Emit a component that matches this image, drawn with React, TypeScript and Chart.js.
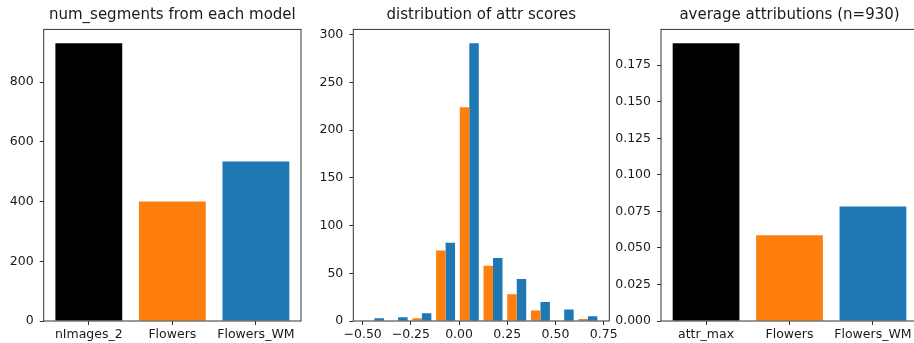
import React, { useEffect, useRef } from "react";
import { Chart, registerables } from "chart.js";

Chart.register(...registerables);
Chart.defaults.font.family = "'DejaVu Sans', sans-serif";

// ---------- data ----------
const segCategories = ["nImages_2", "Flowers", "Flowers_WM"];
const segCounts = [930, 400, 534];
const segYTicks = [0, 200, 400, 600, 800];

const binCenters = [-0.439, -0.316, -0.193, -0.07, 0.053, 0.176, 0.299, 0.422, 0.545, 0.668];
const flowersCounts = [0, 0, 3, 74, 224, 58, 28, 11, 0, 2];
const flowersWMCounts = [3, 4, 8, 82, 291, 66, 44, 20, 12, 5];
const histXTicks = [-0.5, -0.25, 0, 0.25, 0.5, 0.75];
const histYTicks = [0, 50, 100, 150, 200, 250, 300];

const attrCategories = ["attr_max", "Flowers", "Flowers_WM"];
const attrValues = [0.19, 0.0586, 0.0784];
const attrYTicks = [0, 0.025, 0.05, 0.075, 0.1, 0.125, 0.15, 0.175];

const BLACK = "#000000";
const ORANGE = "#ff7f0e";
const BLUE = "#1f77b4";
const TEXT = "#1a1a1a";
const SPINE = "#333333";

const framePlugin = {
  id: "frame",
  afterDatasetsDraw(chart: any) {
    const { ctx, chartArea: a } = chart;
    ctx.save();
    ctx.strokeStyle = SPINE;
    ctx.lineWidth = 1;
    ctx.strokeRect(a.left, a.top, a.right - a.left, a.bottom - a.top);
    ctx.restore();
  },
};

const minus = (s: string) => s.replace("-", "\u2212");

function baseOptions(p: {
  title: string;
  xMin: number;
  xMax: number;
  xTicks: number[];
  xFmt: (v: number) => string;
  yMax: number;
  yTicks: number[];
  yFmt: (v: number) => string;
  yWidth: number;
  rightPad: number;
}): any {
  const tickFont = { size: 12.5 };
  return {
    responsive: false,
    animation: false,
    layout: { padding: { left: 0, right: p.rightPad, top: 0, bottom: 0 } },
    plugins: {
      legend: { display: false },
      tooltip: { enabled: false },
      title: {
        display: true,
        text: p.title,
        color: TEXT,
        fullSize: false,
        font: { size: 15, weight: "normal", lineHeight: 1.2 },
        padding: { top: 6.5, bottom: 29.4 - 6.5 - 18 },
      },
    },
    scales: {
      x: {
        type: "linear",
        min: p.xMin,
        max: p.xMax,
        offset: false,
        grid: {
          display: true,
          offset: false,
          drawOnChartArea: false,
          drawTicks: true,
          tickLength: 4,
          color: SPINE,
        },
        border: { display: false },
        afterBuildTicks: (s: any) => {
          s.ticks = p.xTicks.map((v) => ({ value: v }));
        },
        afterFit: (s: any) => {
          s.height = 343 - 321;
        },
        ticks: {
          autoSkip: false,
          maxRotation: 0,
          minRotation: 0,
          padding: 2,
          color: TEXT,
          font: tickFont,
          callback: (v: any) => p.xFmt(Number(v)),
        },
      },
      y: {
        type: "linear",
        min: 0,
        max: p.yMax,
        grid: {
          display: true,
          drawOnChartArea: false,
          drawTicks: true,
          tickLength: 4,
          color: SPINE,
        },
        border: { display: false },
        afterBuildTicks: (s: any) => {
          s.ticks = p.yTicks.map((v) => ({ value: v }));
        },
        afterFit: (s: any) => {
          s.width = p.yWidth;
        },
        ticks: {
          autoSkip: false,
          padding: 6,
          color: TEXT,
          font: tickFont,
          callback: (v: any) => p.yFmt(Number(v)),
        },
      },
    },
  };
}

function makeSegConfig(): any {
  return {
    type: "bar",
    data: {
      datasets: [
        {
          data: segCounts.map((y, i) => ({ x: i, y })),
          backgroundColor: [BLACK, ORANGE, BLUE],
          borderWidth: 0,
          categoryPercentage: 0.8,
          barPercentage: 1,
        },
      ],
    },
    options: baseOptions({
      title: "num_segments from each model",
      xMin: -0.54,
      xMax: 2.54,
      xTicks: segCategories.map((_, i) => i),
      xFmt: (v) => segCategories[Math.round(v)] ?? "",
      yMax: Math.max(...segCounts) * 1.05,
      yTicks: segYTicks,
      yFmt: (v) => String(Math.round(v)),
      yWidth: 43.7,
      rightPad: 19,
    }),
    plugins: [framePlugin],
  };
}

function makeHistConfig(): any {
  const yMax = Math.max(...flowersCounts, ...flowersWMCounts) * 1.05;
  return {
    type: "bar",
    data: {
      datasets: [
        {
          label: "Flowers",
          data: binCenters.map((x, i) => ({ x, y: flowersCounts[i] })),
          backgroundColor: ORANGE,
          borderWidth: 0,
          categoryPercentage: 0.8,
          barPercentage: 1,
        },
        {
          label: "Flowers_WM",
          data: binCenters.map((x, i) => ({ x, y: flowersWMCounts[i] })),
          backgroundColor: BLUE,
          borderWidth: 0,
          categoryPercentage: 0.8,
          barPercentage: 1,
        },
      ],
    },
    options: baseOptions({
      title: "distribution of attr scores",
      xMin: -0.5485,
      xMax: 0.779,
      xTicks: histXTicks,
      xFmt: (v) => minus(v.toFixed(2)),
      yMax,
      yTicks: histYTicks,
      yFmt: (v) => String(Math.round(v)),
      yWidth: 53.3,
      rightPad: 10.7,
    }),
    plugins: [framePlugin],
  };
}

function makeAttrConfig(): any {
  return {
    type: "bar",
    data: {
      datasets: [
        {
          data: attrValues.map((y, i) => ({ x: i, y })),
          backgroundColor: [BLACK, ORANGE, BLUE],
          borderWidth: 0,
          categoryPercentage: 0.8,
          barPercentage: 1,
        },
      ],
    },
    options: baseOptions({
      title: "average attributions (n=930)",
      xMin: -0.54,
      xMax: 2.54,
      xTicks: attrCategories.map((_, i) => i),
      xFmt: (v) => attrCategories[Math.round(v)] ?? "",
      yMax: Math.max(...attrValues) * 1.05,
      yTicks: attrYTicks,
      yFmt: (v) => v.toFixed(3),
      yWidth: 61,
      rightPad: 12,
    }),
    plugins: [framePlugin],
  };
}

function Panel({ left, width, make }: { left: number; width: number; make: () => any }) {
  const ref = useRef<HTMLCanvasElement | null>(null);
  useEffect(() => {
    if (!ref.current) return;
    const chart = new Chart(ref.current, make());
    return () => chart.destroy();
  }, []);
  return (
    <canvas
      ref={ref}
      width={width}
      height={343}
      style={{ position: "absolute", left, top: 0, width, height: 343 }}
    />
  );
}

export default function App() {
  return (
    <div
      style={{
        position: "absolute",
        left: 0,
        top: 0,
        width: 914,
        height: 343,
        overflow: "hidden",
        background: "#fff",
      }}
    >
      <Panel left={0} width={320} make={makeSegConfig} />
      <Panel left={300} width={320} make={makeHistConfig} />
      <Panel left={600} width={330} make={makeAttrConfig} />
    </div>
  );
}
